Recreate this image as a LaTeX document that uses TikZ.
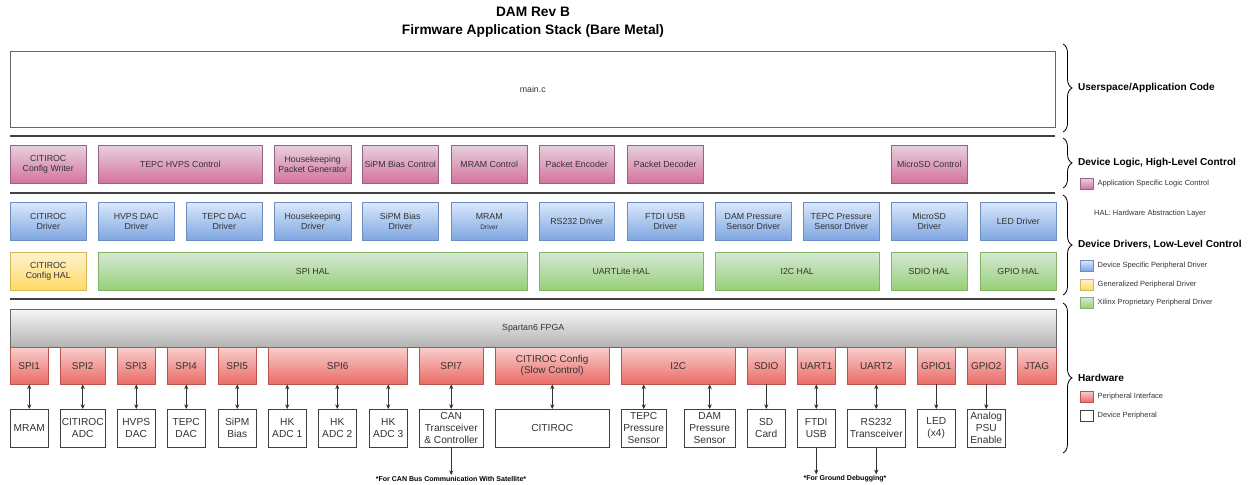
\documentclass[tikz,border=0pt]{standalone}
\usepackage{fontspec}
\setmainfont{Liberation Sans}
\usepackage{tikz}
\usetikzlibrary{positioning,arrows.meta,decorations.pathreplacing}

\definecolor{pinktop}{HTML}{E6D0DE}
\definecolor{pinkbot}{HTML}{D5739D}
\definecolor{pinkline}{HTML}{996185}
\definecolor{bluetop}{HTML}{DAE8FC}
\definecolor{bluebot}{HTML}{7EA6E0}
\definecolor{blueline}{HTML}{6C8EBF}
\definecolor{greentop}{HTML}{D5E8D4}
\definecolor{greenbot}{HTML}{97D077}
\definecolor{greenline}{HTML}{82B366}
\definecolor{yellowtop}{HTML}{FFF2CC}
\definecolor{yellowbot}{HTML}{FFD966}
\definecolor{yellowline}{HTML}{D6B656}
\definecolor{redtop}{HTML}{F8CECC}
\definecolor{redbot}{HTML}{EA6B66}
\definecolor{redline}{HTML}{B85450}
\definecolor{graytop}{HTML}{F5F5F5}
\definecolor{graybot}{HTML}{B3B3B3}
\definecolor{grayline}{HTML}{666666}

\begin{document}
\begin{tikzpicture}[x=0.3mm, y=-0.3mm, >={Stealth[length=4pt,width=3.6pt]},
  box/.style={draw, anchor=north west, align=center, inner sep=1pt, minimum height=11.4mm, text=black!80, font=\fontsize{7.5}{8.6}\selectfont},
  bw/.style={minimum width=#1*0.3mm},
  pinkc/.style={draw=pinkline, top color=pinktop, bottom color=pinkbot},
  bluec/.style={draw=blueline, top color=bluetop, bottom color=bluebot},
  greenc/.style={draw=greenline, top color=greentop, bottom color=greenbot},
  yellowc/.style={draw=yellowline, top color=yellowtop, bottom color=yellowbot},
  redc/.style={draw=redline, top color=redtop, bottom color=redbot},
  grayc/.style={draw=grayline, top color=graytop, bottom color=graybot},
  logic/.style={box, pinkc},
  drv/.style={box, bluec},
  hal/.style={box, greenc},
  iface/.style={box, redc, minimum height=11.1mm, font=\fontsize{8.5}{9.4}\selectfont},
  periph/.style={box, draw=black!75, fill=white, font=\fontsize{8.7}{10.2}\selectfont},
  layerline/.style={line width=1.3pt, draw=black!75},
  bi/.style={<->, line width=0.6pt, draw=black!80},
  uni/.style={->, line width=0.6pt, draw=black!80},
  curly/.style={decorate, decoration={brace, amplitude=2.7mm}, line width=0.7pt},
  layerlbl/.style={anchor=west, xshift=4.4mm, inner sep=0pt, font=\bfseries\fontsize{8.6}{10}\selectfont},
  swatch/.style={anchor=north west, minimum width=3.9mm, minimum height=3.3mm, inner sep=0pt},
  legtext/.style={inner sep=0pt, text=black!80, font=\fontsize{6.4}{7.5}\selectfont},
  heading/.style={font=\bfseries\fontsize{11.7}{13}\selectfont},
  note/.style={inner sep=1pt, font=\bfseries\fontsize{6}{7}\selectfont}
]
  \useasboundingbox (0,0) rectangle (1248,484);

  \node[heading] (title1) at (533,12) {DAM Rev B};
  \node[heading] (title2) at (533,31) {Firmware Application Stack (Bare Metal)};

  \node[box, bw=1045, minimum height=22.8mm, draw=black!60, fill=white] (mainc) at (10,51) {main.c};
  \draw[layerline] (10,136) -- (1055,136);
  \draw[layerline] (10,193) -- (1055,193);
  \draw[layerline] (10,299) -- (1055,299);

  \node[logic, bw=76] (cfgwriter) at (10,145) {CITIROC\\Config Writer};
  \node[logic, bw=164] (hvpsctl) at (98,145) {TEPC HVPS Control};
  \node[logic, bw=77] (hkgen) at (274,145) {Housekeeping\\Packet Generator};
  \node[logic, bw=76] (sipmctl) at (362,145) {SiPM Bias Control};
  \node[logic, bw=76] (mramctl) at (451,145) {MRAM Control};
  \node[logic, bw=75] (pktenc) at (539,145) {Packet Encoder};
  \node[logic, bw=76] (pktdec) at (627,145) {Packet Decoder};
  \node[logic, bw=76] (sdctl) at (891,145) {MicroSD Control};

  \node[drv, bw=76] (citdrv) at (10,202) {CITIROC\\Driver};
  \node[drv, bw=76] (hvpsdrv) at (98,202) {HVPS DAC\\Driver};
  \node[drv, bw=76] (tepcdacdrv) at (186,202) {TEPC DAC\\Driver};
  \node[drv, bw=77] (hkdrv) at (274,202) {Housekeeping\\Driver};
  \node[drv, bw=76] (sipmdrv) at (362,202) {SiPM Bias\\Driver};
  \node[drv, bw=76] (mramdrv) at (451,202) {MRAM\\{\fontsize{5.6}{7}\selectfont Driver}};
  \node[drv, bw=75] (rsdrv) at (539,202) {RS232 Driver};
  \node[drv, bw=76] (ftdidrv) at (627,202) {FTDI USB\\Driver};
  \node[drv, bw=76] (dampsdrv) at (715,202) {DAM Pressure\\Sensor Driver};
  \node[drv, bw=76] (tepcpsdrv) at (803,202) {TEPC Pressure\\Sensor Driver};
  \node[drv, bw=76] (sddrv) at (891,202) {MicroSD\\Driver};
  \node[drv, bw=76] (leddrv) at (980,202) {LED Driver};

  \node[box, yellowc, bw=76] (cfghal) at (10,252) {CITIROC\\Config HAL};
  \node[hal, bw=429] (spihal) at (98,252) {SPI HAL};
  \node[hal, bw=164] (uarthal) at (539,252) {UARTLite HAL};
  \node[hal, bw=164] (i2chal) at (715,252) {I2C HAL};
  \node[hal, bw=76] (sdiohal) at (891,252) {SDIO HAL};
  \node[hal, bw=76] (gpiohal) at (980,252) {GPIO HAL};

  \node[box, grayc, bw=1046] (fpga) at (10,309) {Spartan6 FPGA};

  \node[iface, bw=38] (spi1) at (10,347) {SPI1};
  \node[iface, bw=45] (spi2) at (60,347) {SPI2};
  \node[iface, bw=38] (spi3) at (117,347) {SPI3};
  \node[iface, bw=38] (spi4) at (167,347) {SPI4};
  \node[iface, bw=38] (spi5) at (218,347) {SPI5};
  \node[iface, bw=139] (spi6) at (268,347) {SPI6};
  \node[iface, bw=64] (spi7) at (419,347) {SPI7};
  \node[iface, bw=114] (citcfg) at (495,347) {CITIROC Config\\(Slow Control)};
  \node[iface, bw=114] (i2c) at (621,347) {I2C};
  \node[iface, bw=38] (sdio) at (747,347) {SDIO};
  \node[iface, bw=38] (uart1) at (797,347) {UART1};
  \node[iface, bw=58] (uart2) at (847,347) {UART2};
  \node[iface, bw=38] (gpio1) at (917,347) {GPIO1};
  \node[iface, bw=38] (gpio2) at (967,347) {GPIO2};
  \node[iface, bw=39] (jtag) at (1017,347) {JTAG};

  \node[periph, bw=38] (mram) at (10,409) {MRAM};
  \node[periph, bw=45] (citadc) at (60,409) {CITIROC\\ADC};
  \node[periph, bw=38] (hvpsdac) at (117,409) {HVPS\\DAC};
  \node[periph, bw=38] (tepcdac) at (167,409) {TEPC\\DAC};
  \node[periph, bw=38] (sipm) at (218,409) {SiPM\\Bias};
  \node[periph, bw=38] (hk1) at (268,409) {HK\\ADC 1};
  \node[periph, bw=38] (hk2) at (318,409) {HK\\ADC 2};
  \node[periph, bw=38] (hk3) at (369,409) {HK\\ADC 3};
  \node[periph, bw=64] (can) at (419,409) {CAN\\Transceiver\\\& Controller};
  \node[periph, bw=114] (citiroc) at (495,409) {CITIROC};
  \node[periph, bw=45] (tepcps) at (621,409) {TEPC\\Pressure\\Sensor};
  \node[periph, bw=51] (damps) at (684,409) {DAM\\Pressure\\Sensor};
  \node[periph, bw=38] (sdcard) at (747,409) {SD\\Card};
  \node[periph, bw=38] (ftdi) at (797,409) {FTDI\\USB};
  \node[periph, bw=58] (rs232) at (847,409) {RS232\\Transceiver};
  \node[periph, bw=38] (led) at (917,409) {LED\\(x4)};
  \node[periph, bw=38] (psu) at (967,409) {Analog\\PSU\\Enable};

  \node[note] (cannote) at (451,479) {*For CAN Bus Communication With Satellite*};
  \node[note] (gndnote) at (845,479) {*For Ground Debugging*};

  \draw[bi] (mram.north) -- (mram.north |- spi1.south);
  \draw[bi] (citadc.north) -- (citadc.north |- spi2.south);
  \draw[bi] (hvpsdac.north) -- (hvpsdac.north |- spi3.south);
  \draw[bi] (tepcdac.north) -- (tepcdac.north |- spi4.south);
  \draw[bi] (sipm.north) -- (sipm.north |- spi5.south);
  \draw[bi] (hk1.north) -- (hk1.north |- spi6.south);
  \draw[bi] (hk2.north) -- (hk2.north |- spi6.south);
  \draw[bi] (hk3.north) -- (hk3.north |- spi6.south);
  \draw[bi] (can.north) -- (can.north |- spi7.south);
  \draw[bi] (citiroc.north) -- (citiroc.north |- citcfg.south);
  \draw[bi] (tepcps.north) -- (tepcps.north |- i2c.south);
  \draw[bi] (damps.north) -- (damps.north |- i2c.south);
  \draw[uni] (sdio.south) -- (sdcard.north);
  \draw[bi] (ftdi.north) -- (ftdi.north |- uart1.south);
  \draw[bi] (rs232.north) -- (rs232.north |- uart2.south);
  \draw[uni] (gpio1.south) -- (led.north);
  \draw[uni] (gpio2.south) -- (psu.north);
  \draw[uni] (can.south) -- (can.south |- cannote.north);
  \draw[uni] (ftdi.south) -- (ftdi.south |- gndnote.north);
  \draw[uni] (rs232.south) -- (rs232.south |- gndnote.north);

  \draw[curly] (1063,44) -- (1063,132) node[midway, layerlbl] (userlbl) {Userspace/Application Code};
  \draw[curly] (1063,138) -- (1063,188) node[midway, layerlbl] (logiclbl) {Device Logic, High-Level Control};
  \draw[curly] (1063,195) -- (1063,295) node[midway, layerlbl] (drvlbl) {Device Drivers, Low-Level Control};
  \draw[curly] (1063,303) -- (1063,453) node[midway, layerlbl] (hwlbl) {Hardware};

  \node[swatch, pinkc] (swpink) at (1080,178) {};
  \node[legtext, right=1.2mm of swpink] (txtpink) {Application Specific Logic Control};
  \node[legtext] (halnote) at (1150,214) {HAL: Hardware Abstraction Layer};
  \node[swatch, bluec] (swblue) at (1080,260) {};
  \node[legtext, right=1.2mm of swblue] (txtblue) {Device Specific Peripheral Driver};
  \node[swatch, yellowc] (swyellow) at (1080,279) {};
  \node[legtext, right=1.2mm of swyellow] (txtyellow) {Generalized Peripheral Driver};
  \node[swatch, greenc] (swgreen) at (1080,297) {};
  \node[legtext, right=1.2mm of swgreen] (txtgreen) {Xilinx Proprietary Peripheral Driver};
  \node[swatch, redc] (swred) at (1080,391) {};
  \node[legtext, right=1.2mm of swred] (txtred) {Peripheral Interface};
  \node[swatch, draw=black!75, fill=white] (swwhite) at (1080,410) {};
  \node[legtext, right=1.2mm of swwhite] (txtwhite) {Device Peripheral};
\end{tikzpicture}
\end{document}
